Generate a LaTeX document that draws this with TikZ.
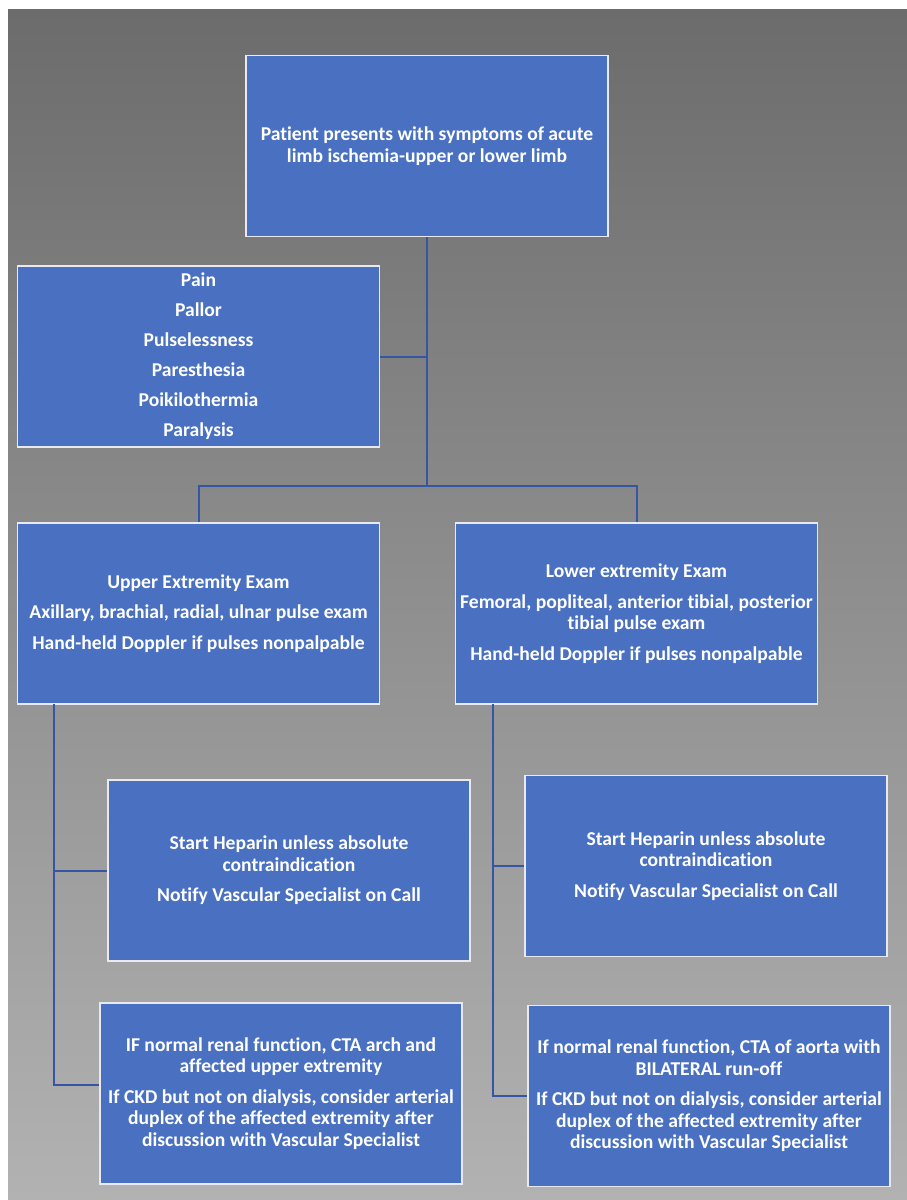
\documentclass[tikz,border=0pt]{standalone}
\usepackage{fontspec}
\setmainfont{Carlito}[Ligatures=NoCommon]

\definecolor{boxblue}{RGB}{73,112,193}
\definecolor{boxedge}{RGB}{232,234,240}
\definecolor{linkblue}{RGB}{52,86,164}
\definecolor{bglight}{RGB}{178,178,178}
\definecolor{bgmid}{RGB}{146,146,146}
\definecolor{bgdark}{RGB}{108,108,108}

\begin{document}
\begin{tikzpicture}[x=1pt,y=-1pt]

    \tikzset{
      stepbox/.style={
        draw=boxedge,
        line width=1.5pt,
        fill=boxblue,
        text=white,
        font=\fontsize{19.6}{21.5}\selectfont\bfseries,
        align=center,
        inner sep=0pt,
        minimum width=362pt,
        minimum height=181pt,
      },
      link/.style={draw=linkblue, line width=2pt},
    }
    \useasboundingbox (0,0) rectangle (907,1200);
    \shade[top color=bgdark, middle color=bgmid, bottom color=bglight] (8,9) rectangle (907,1200);

	\node[stepbox] (onset) at (427,146) {Patient presents with symptoms of acute\\limb ischemia-upper or lower limb};
	\node[stepbox] (signs) at (198.5,356.5) {Pain\\[8.5pt]Pallor\\[8.5pt]Pulselessness\\[8.5pt]Paresthesia\\[8.5pt]Poikilothermia\\[8.5pt]Paralysis};

	\node[stepbox] (upperexam) at (198.5,613.5) {Upper Extremity Exam\\[9pt]Axillary, brachial, radial, ulnar pulse exam\\[9pt]Hand-held Doppler if pulses nonpalpable};
	\node[stepbox] (lowerexam) at (636.5,613.5) {Lower extremity Exam\\[9pt]Femoral, popliteal, anterior tibial, posterior\\tibial pulse exam\\[9pt]Hand-held Doppler if pulses nonpalpable};

	\node[stepbox] (upperhep) at (289,870.5) {Start Heparin unless absolute\\contraindication\\[9pt]Notify Vascular Specialist on Call};
	\node[stepbox] (uppercta) at (281,1093.5) {IF normal renal function, CTA arch and\\affected upper extremity\\[9pt]If CKD but not on dialysis, consider arterial\\duplex of the affected extremity after\\discussion with Vascular Specialist};

	\node[stepbox] (lowerhep) at (706,866) {Start Heparin unless absolute\\contraindication\\[9pt]Notify Vascular Specialist on Call};
	\node[stepbox] (lowercta) at (709,1096) {If normal renal function, CTA of aorta with\\BILATERAL run-off\\[9pt]If CKD but not on dialysis, consider arterial\\duplex of the affected extremity after\\discussion with Vascular Specialist};

	% trunk
	\coordinate (split) at (427,486);
	\draw[link] (onset) -- (split);
	\draw[link] (signs) -- (signs -| split);
	\draw[link] (upperexam.north) |- (split) -| (lowerexam.north);

	% upper limb branch
	\coordinate (uppertrunk) at (54,704);
	\coordinate (upperend) at (54,1085);
	\draw[link] (uppertrunk) -- (upperend) -- (upperend -| uppercta.west);
	\draw[link] (uppertrunk |- upperhep.west) -- (upperhep.west);

	% lower limb branch
	\coordinate (lowertrunk) at (493,704);
	\draw[link] (lowertrunk) |- (lowercta.west);
	\draw[link] (lowertrunk |- lowerhep.west) -- (lowerhep.west);

\end{tikzpicture}
\end{document}
